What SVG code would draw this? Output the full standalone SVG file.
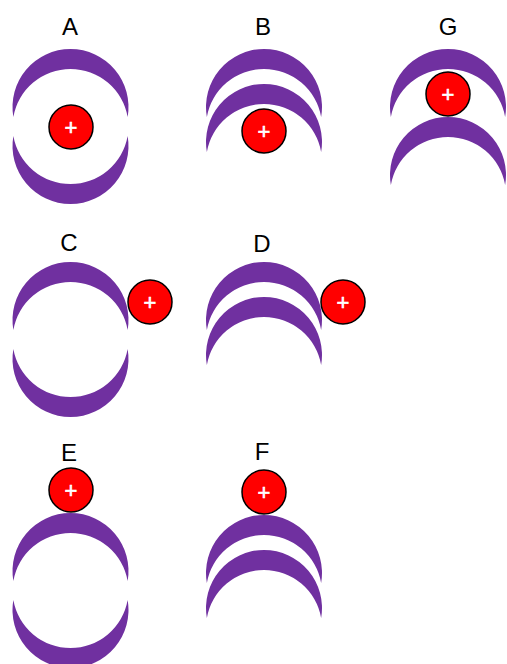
<svg xmlns="http://www.w3.org/2000/svg" xmlns:xlink="http://www.w3.org/1999/xlink" width="507" height="664" viewBox="0 0 507 664">
<style>
.lbl{font-family:"Liberation Sans",Arial,sans-serif;font-size:24px;fill:#000;text-anchor:middle}
.cres{fill:#7030A0}
.nuc{fill:#FF0000;stroke:#000;stroke-width:1.5}
.plus{font-family:"Liberation Sans",Arial,sans-serif;font-size:22px;fill:#fff;text-anchor:middle;stroke:#fff;stroke-width:0.6}
</style>
<defs>
<path id="cap" class="cres" d="M -57.13 68 A 58 58 0 1 1 57.13 68 A 58 58 0 0 0 -57.13 68 Z"/>
</defs>
<rect width="507" height="664" fill="#fff"/>
<g id="A">
<text class="lbl" x="70" y="35">A</text>
<use xlink:href="#cap" transform="translate(70.5,49)"/>
<use xlink:href="#cap" transform="translate(70.5,204) scale(1,-1)"/>
<circle class="nuc" cx="71" cy="127" r="22"/>
<text class="plus" x="71" y="135">+</text>
</g>
<g id="B">
<text class="lbl" x="263" y="35">B</text>
<use xlink:href="#cap" transform="translate(264,49)"/>
<use xlink:href="#cap" transform="translate(264,84)"/>
<circle class="nuc" cx="264" cy="131" r="22"/>
<text class="plus" x="264" y="139">+</text>
</g>
<g id="G">
<text class="lbl" x="448" y="35">G</text>
<use xlink:href="#cap" transform="translate(448,49)"/>
<use xlink:href="#cap" transform="translate(448,117)"/>
<circle class="nuc" cx="448" cy="94" r="22"/>
<text class="plus" x="448" y="102">+</text>
</g>
<g id="C">
<text class="lbl" x="69" y="251">C</text>
<use xlink:href="#cap" transform="translate(70.5,262)"/>
<use xlink:href="#cap" transform="translate(70.5,417) scale(1,-1)"/>
<circle class="nuc" cx="150" cy="302" r="22"/>
<text class="plus" x="150" y="310">+</text>
</g>
<g id="D">
<text class="lbl" x="262" y="252">D</text>
<use xlink:href="#cap" transform="translate(264,262)"/>
<use xlink:href="#cap" transform="translate(264,297)"/>
<circle class="nuc" cx="343" cy="302" r="22"/>
<text class="plus" x="343" y="310">+</text>
</g>
<g id="E">
<text class="lbl" x="69" y="461">E</text>
<use xlink:href="#cap" transform="translate(70.5,513)"/>
<use xlink:href="#cap" transform="translate(70.5,668) scale(1,-1)"/>
<circle class="nuc" cx="71" cy="490" r="22"/>
<text class="plus" x="71" y="498">+</text>
</g>
<g id="F">
<text class="lbl" x="262" y="460">F</text>
<use xlink:href="#cap" transform="translate(264,515)"/>
<use xlink:href="#cap" transform="translate(264,550)"/>
<circle class="nuc" cx="264" cy="492" r="22"/>
<text class="plus" x="264" y="500">+</text>
</g>
<g id="connectors"/>
</svg>
